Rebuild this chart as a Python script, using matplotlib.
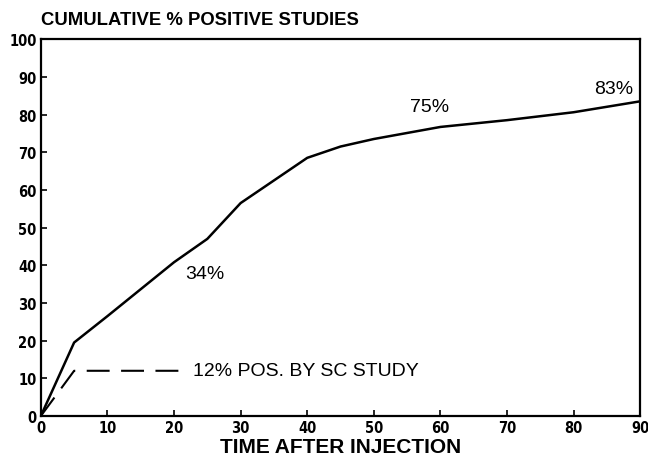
import matplotlib
matplotlib.use("Agg")
import matplotlib.pyplot as plt

# Data
time_pts = [0, 5, 10, 20, 25, 30, 40, 45, 50, 60, 70, 80, 90]
cum_pos = [0, 19.5, 26.5, 40.8, 47, 56.5, 68.5, 71.5, 73.5, 76.7, 78.5, 80.6, 83.5]
sc_time = [0, 5, 21.5]
sc_pos = [0, 12, 12]
x_ticks = [0, 10, 20, 30, 40, 50, 60, 70, 80, 90]
y_ticks = [0, 10, 20, 30, 40, 50, 60, 70, 80, 90, 100]

fig = plt.figure(figsize=(6.48, 4.56), dpi=100)
ax = fig.add_axes([0.063, 0.0855, 0.925, 0.8265])

ax.plot(time_pts, cum_pos, color="black", lw=1.8, solid_joinstyle="round")
ax.plot(sc_time, sc_pos, color="black", lw=1.5, dashes=(11, 5.5))

ax.set_xlim(0, 90)
ax.set_ylim(0, 100)
ax.set_xticks(x_ticks)
ax.set_yticks(y_ticks)

tick_font = dict(family=["DejaVu Sans"], stretch="condensed", weight="bold", size=10.5)
ax.set_xticklabels([str(t) for t in x_ticks], fontdict=tick_font)
ax.set_yticklabels([str(t) for t in y_ticks], fontdict=tick_font)
ax.tick_params(direction="in", length=4, width=1.2, pad=3)

for s in ax.spines.values():
    s.set_linewidth(1.6)

txt = dict(family=["Liberation Sans", "DejaVu Sans"], size=14)
ax.text(24.6, 37.7, "34%", ha="center", va="center", **txt)
ax.text(58.4, 82, "75%", ha="center", va="center", **txt)
ax.text(86, 86.8, "83%", ha="center", va="center", **txt)
ax.text(22.8, 12, "12% POS. BY SC STUDY", ha="left", va="center", **txt)

fig.text(0.063, 0.955, "CUMULATIVE % POSITIVE STUDIES", ha="left", va="center",
         family=["Liberation Sans", "DejaVu Sans"], weight="bold", size=13.3)
fig.text(0.526, 0.018, "TIME AFTER INJECTION", ha="center", va="center",
         family=["Liberation Sans", "DejaVu Sans"], weight="bold", size=15)

fig.savefig("out.png", dpi=100)
